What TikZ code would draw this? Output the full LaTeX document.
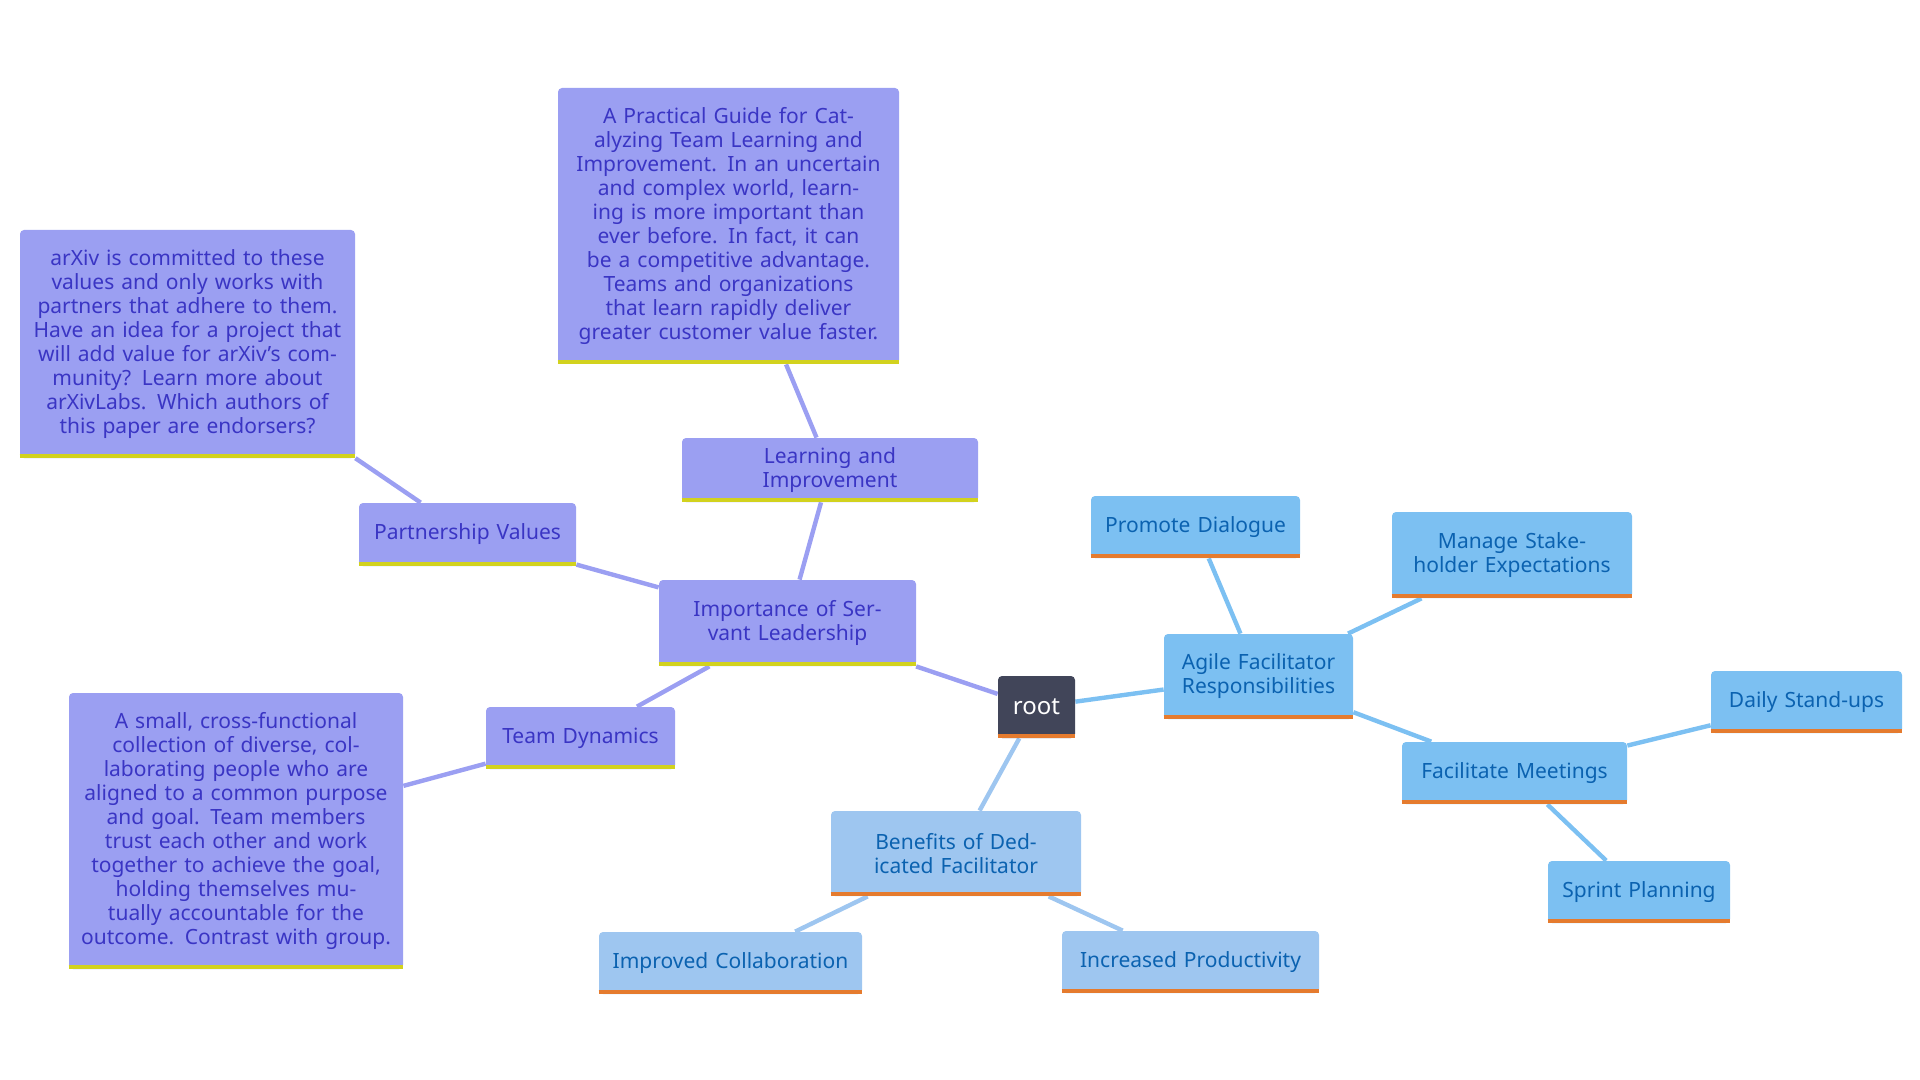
\documentclass[tikz,border=0pt]{standalone}
\usepackage{fontspec}
\setmainfont{Noto Sans}
\usetikzlibrary{backgrounds}
\definecolor{pf}{HTML}{9B9FF2}
\definecolor{pt}{HTML}{3A35C4}
\definecolor{py}{HTML}{D2D21E}
\definecolor{bf}{HTML}{7CC0F2}
\definecolor{bt}{HTML}{0B62B0}
\definecolor{bo}{HTML}{E57B2E}
\definecolor{lf}{HTML}{9EC6F0}
\definecolor{rf}{HTML}{414559}
\newcommand{\nd}[8]{%
  \node[box,fill=#6,text=#8,minimum width={(#4-#2)*0.5pt},minimum height={(#5-#3)*0.5pt},text width={(#4-#2)*0.5pt-12pt}] (#1) at ({(#2+#4)/2},{(#3+#5)/2}) {#7};
  \draw[#8line] ([yshift=1pt]#1.south west) -- ([yshift=1pt]#1.south east);}
\begin{document}
\begin{tikzpicture}[x=0.5pt,y=-0.5pt,
  box/.style={rectangle,rounded corners=2pt,inner sep=0pt,align=center,font=\fontsize{10.5}{12}\selectfont},
  ptline/.style={py,line width=2pt},
  btline/.style={bo,line width=2pt},
  whiteline/.style={bo,line width=2pt},
  pe/.style={pf,line width=2.2pt},
  be/.style={bf,line width=2.2pt},
  le/.style={lf,line width=2.2pt}]
\useasboundingbox (0,0) rectangle (1920,1080);
\nd{root}{998}{676}{1075}{738}{rf}{\fontsize{12}{14}\selectfont root}{white}
\nd{agile}{1164}{634}{1353}{719}{bf}{Agile Facilitator Responsibilities}{bt}
\nd{promote}{1091}{496}{1300}{558}{bf}{Promote Dialogue}{bt}
\nd{manage}{1392}{512}{1632}{598}{bf}{Manage Stakeholder Expectations}{bt}
\nd{meet}{1402}{742}{1627}{804}{bf}{Facilitate Meetings}{bt}
\nd{daily}{1711}{671}{1902}{733}{bf}{Daily Stand-ups}{bt}
\nd{sprint}{1548}{861}{1730}{923}{bf}{Sprint Planning}{bt}
\nd{benef}{831}{811}{1081}{896}{lf}{Benefits of Dedicated Facilitator}{bt}
\nd{collab}{599}{932}{862}{994}{lf}{Improved Collaboration}{bt}
\nd{prod}{1062}{931}{1319}{993}{lf}{Increased Productivity}{bt}
\nd{imp}{659}{580}{916}{666}{pf}{Importance of Servant Leadership}{pt}
\nd{learn}{682}{438}{978}{502}{pf}{Learning and Improvement}{pt}
\nd{guide}{558}{88}{899}{364}{pf}{A Practical Guide for Catalyzing Team Learning and Improvement. In an uncertain and complex world, learning is more important than ever before. In fact, it can be a competitive advantage. Teams and organizations that learn rapidly deliver greater customer value faster.}{pt}
\nd{partner}{359}{503}{576}{566}{pf}{Partnership Values}{pt}
\nd{arxiv}{20}{230}{355}{458}{pf}{arXiv is committed to these values and only works with partners that adhere to them. Have an idea for a project that will add value for arXiv's community? Learn more about arXivLabs. Which authors of this paper are endorsers?}{pt}
\nd{team}{486}{707}{675}{769}{pf}{Team Dynamics}{pt}
\nd{teamtxt}{69}{693}{403}{969}{pf}{A small, cross-functional collection of diverse, collaborating people who are aligned to a common purpose and goal. Team members trust each other and work together to achieve the goal, holding themselves mutually accountable for the outcome. Contrast with group.}{pt}
\begin{scope}[on background layer]
\draw[pe] (root) -- (imp);
\draw[pe] (imp) -- (learn);
\draw[pe] (learn) -- (guide);
\draw[pe] (imp) -- (partner);
\draw[pe] (partner) -- (arxiv);
\draw[pe] (imp) -- (team);
\draw[pe] (team) -- (teamtxt);
\draw[be] (root) -- (agile);
\draw[be] (agile) -- (promote);
\draw[be] (agile) -- (manage);
\draw[be] (agile) -- (meet);
\draw[be] (meet) -- (daily);
\draw[be] (meet) -- (sprint);
\draw[le] (root) -- (benef);
\draw[le] (benef) -- (collab);
\draw[le] (benef) -- (prod);
\end{scope}
\end{tikzpicture}
\end{document}
